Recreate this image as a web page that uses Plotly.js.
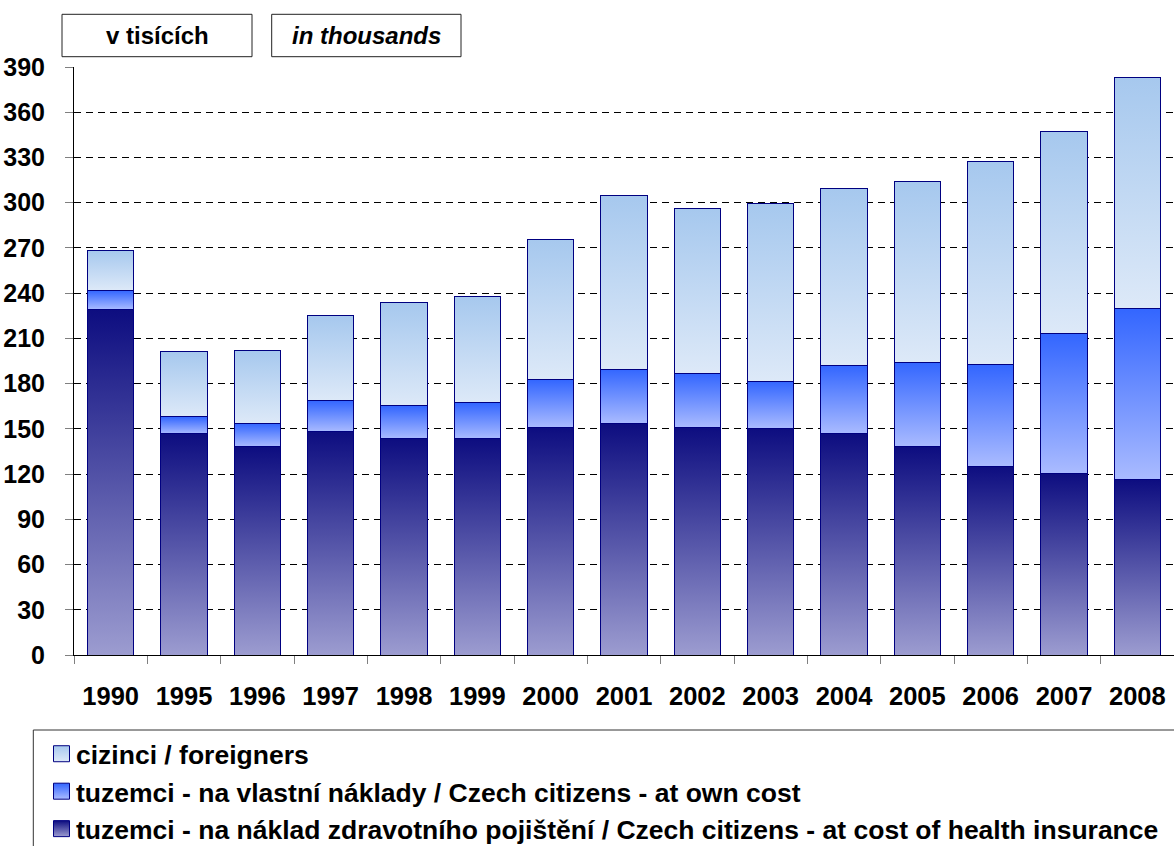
<!DOCTYPE html>
<html>
<head>
<meta charset="utf-8">
<script src="https://cdn.plot.ly/plotly-3.0.1.min.js"></script>
<style>
  html, body { margin: 0; padding: 0; background: #ffffff; }
  #chart { width: 1174px; height: 846px; }
</style>
</head>
<body>
<div id="chart"></div>
<script>
// ---- data (thousands) ----
const years = ['1990','1995','1996','1997','1998','1999','2000','2001','2002','2003','2004','2005','2006','2007','2008'];
const insurance  = [229, 146.6, 138.1, 148, 143.3, 143.3, 150.8, 153.5, 151, 150.2, 146.7, 138, 125.3, 120.7, 116.2];
const ownCost    = [12.7, 11.3, 15.5, 20.7, 21.9, 24, 31.7, 36.1, 35.7, 31.2, 45.3, 56.3, 67.2, 92.3, 113.5];
const foreigners = [26.5, 43.1, 48.5, 56.2, 68.7, 70.8, 93.3, 115.4, 109.3, 117.9, 117.3, 119.8, 134.7, 134, 153.6];

const nameForeigners = 'cizinci / foreigners';
const nameOwn = 'tuzemci - na vlastní náklady / Czech citizens - at own cost';
const nameIns = 'tuzemci - na náklad zdravotního pojištění / Czech citizens - at cost of health insurance';
const boxLabelCz = 'v tisících';
const boxLabelEn = 'in thousands';

const FONT = 'Arial, "Liberation Sans", sans-serif';
const edge = {color: '#000080', width: 1};

const traces = [
  {type: 'bar', x: years, y: insurance, name: nameIns, marker: {color: '#5050a6', line: edge}},
  {type: 'bar', x: years, y: ownCost, name: nameOwn, marker: {color: '#6f8fff', line: edge}},
  {type: 'bar', x: years, y: foreigners, name: nameForeigners, marker: {color: '#c4daf4', line: edge}}
];

// pixel helpers for paper coordinates (plot area: x 74..1174, y 67..655)
const L = 74, R = 1174, T = 67, B = 655;
const px = v => (v - L) / (R - L);
const py = v => (B - v) / (B - T);

const layout = {
  width: 1174, height: 846,
  margin: {l: L, r: 1174 - R, t: T, b: 846 - B, autoexpand: false},
  paper_bgcolor: '#ffffff', plot_bgcolor: '#ffffff',
  barmode: 'stack', bargap: 0.37,
  showlegend: true,
  font: {family: FONT, color: '#000'},
  xaxis: {
    type: 'category',
    showline: true, linecolor: '#000', linewidth: 1,
    ticks: 'outside', tickson: 'boundaries', ticklen: 8, tickcolor: '#808080', tickwidth: 1,
    tickfont: {family: FONT, size: 25.5, weight: 'bold', color: '#000'},
    ticklabelstandoff: 18,
    showgrid: false, zeroline: false, fixedrange: true
  },
  yaxis: {
    range: [0, 390], dtick: 30, tick0: 0,
    showline: true, linecolor: '#000', linewidth: 1,
    ticks: 'outside', ticklen: 8, tickcolor: '#808080', tickwidth: 1,
    tickfont: {family: FONT, size: 25, weight: 'bold', color: '#000'},
    ticklabelstandoff: 15,
    showgrid: true, gridcolor: '#000', gridwidth: 1, griddash: '7px,5px',
    zeroline: false, fixedrange: true
  },
  legend: {
    x: px(36), y: py(730), xanchor: 'left', yanchor: 'top',
    orientation: 'v', traceorder: 'reversed',
    bgcolor: 'rgba(0,0,0,0)', borderwidth: 0,
    font: {family: FONT, size: 26.5, weight: 'bold', color: '#000'}
  },
  shapes: [
    {type: 'rect', xref: 'paper', yref: 'paper', x0: px(62), x1: px(252), y0: py(56.7), y1: py(14.3),
     line: {color: '#222', width: 1}, fillcolor: 'rgba(0,0,0,0)'},
    {type: 'rect', xref: 'paper', yref: 'paper', x0: px(271.7), x1: px(461), y0: py(56.7), y1: py(14.3),
     line: {color: '#222', width: 1}, fillcolor: 'rgba(0,0,0,0)'},
    {type: 'rect', xref: 'paper', yref: 'paper', x0: px(33.3), x1: px(1190), y0: py(730), y1: py(870),
     line: {color: '#333', width: 1}, fillcolor: 'rgba(0,0,0,0)'}
  ],
  annotations: [
    {xref: 'paper', yref: 'paper', x: px(157), y: py(35.5), xanchor: 'center', yanchor: 'middle',
     text: boxLabelCz, showarrow: false, font: {family: FONT, size: 24, weight: 'bold', color: '#000'}},
    {xref: 'paper', yref: 'paper', x: px(366.3), y: py(35.5), xanchor: 'center', yanchor: 'middle',
     text: boxLabelEn, showarrow: false, font: {family: FONT, size: 24, weight: 'bold', style: 'italic', color: '#000'}}
  ]
};

const grads = [
  {id: 'gIns', top: '#0d0d80', bottom: '#9c9cd0'},
  {id: 'gOwn', top: '#3366ff', bottom: '#aabbff'},
  {id: 'gFor', top: '#a6c8ee', bottom: '#dde9f8'}
];

Plotly.newPlot('chart', traces, layout, {displayModeBar: false, staticPlot: true}).then(gd => {
  const svg = gd.querySelector('.main-svg');
  const NS = 'http://www.w3.org/2000/svg';
  let defs = svg.querySelector('defs');
  if (!defs) { defs = document.createElementNS(NS, 'defs'); svg.insertBefore(defs, svg.firstChild); }
  grads.forEach(g => {
    const lg = document.createElementNS(NS, 'linearGradient');
    lg.setAttribute('id', g.id);
    lg.setAttribute('x1', '0'); lg.setAttribute('y1', '0');
    lg.setAttribute('x2', '0'); lg.setAttribute('y2', '1');
    [[0, g.top], [1, g.bottom]].forEach(([o, c]) => {
      const s = document.createElementNS(NS, 'stop');
      s.setAttribute('offset', o);
      s.setAttribute('stop-color', c);
      lg.appendChild(s);
    });
    defs.appendChild(lg);
  });
  const barTraces = gd.querySelectorAll('.barlayer .trace');
  barTraces.forEach((t, i) => {
    t.querySelectorAll('path').forEach(p => { p.style.fill = 'url(#' + grads[i].id + ')'; });
  });
  // legend symbols (legend is reversed: foreigners, own, insurance)
  const legendTraces = gd.querySelectorAll('.legend .traces');
  const order = ['gFor', 'gOwn', 'gIns'];
  legendTraces.forEach((t, i) => {
    t.querySelectorAll('.legendpoints path').forEach(p => {
      p.setAttribute('d', 'M8,8H-8V-8H8Z');
      p.setAttribute('transform', 'translate(25.5,0)');
      p.style.fill = 'url(#' + order[i] + ')';
    });
  });
});
</script>
</body>
</html>
